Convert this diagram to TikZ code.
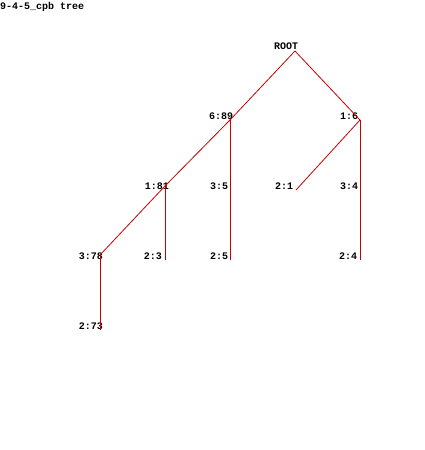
\documentclass[tikz,border=0pt]{standalone}
\usepackage{fontspec}
\setmonofont{Liberation Mono}
\begin{document}
\begin{tikzpicture}[x=1pt,y=-1pt,
  lbl/.style={font=\ttfamily\bfseries\fontsize{10}{10}\selectfont, inner sep=0pt, text=black, anchor=base},
  edge/.style={draw={rgb,255:red,200;green,0;blue,0}, line width=0.8pt}]
\useasboundingbox[fill=white] (0,0) rectangle (425,450);
\node[lbl, anchor=base west] (title) at (0,9.5) {9-4-5\_cpb tree};
% labels
\node[lbl] (lroot) at (286,49.5) {ROOT};
\node[lbl] (l689) at (221,119.5) {6:89};
\node[lbl] (l16) at (349,119.5) {1:6};
\node[lbl] (l181) at (157,189.5) {1:81};
\node[lbl] (l35) at (219,189.5) {3:5};
\node[lbl] (l21) at (284,189.5) {2:1};
\node[lbl] (l34) at (349,189.5) {3:4};
\node[lbl] (l378) at (91,259.5) {3:78};
\node[lbl] (l23) at (153,259.5) {2:3};
\node[lbl] (l25) at (219,259.5) {2:5};
\node[lbl] (l24) at (348,259.5) {2:4};
\node[lbl] (l273) at (91,329.5) {2:73};
% connector points
\coordinate (proot) at (295,51);
\coordinate (p689) at (230,120);
\coordinate (p16) at (360,120);
\coordinate (p181) at (165,186);
\coordinate (p21) at (296,190);
\coordinate (p378) at (100,255);
\coordinate (p25) at (230,260);
\coordinate (p23) at (165,260);
\coordinate (p24) at (360,260);
\coordinate (p273) at (100,330);
\draw[edge] (proot) -- (p689);
\draw[edge] (proot) -- (p16);
\draw[edge] (p689) -- (p181);
\draw[edge] (p689) -- (p25);
\draw[edge] (p16) -- (p21);
\draw[edge] (p16) -- (p24);
\draw[edge] (p181) -- (p378);
\draw[edge] (p181) -- (p23);
\draw[edge] (p378) -- (p273);
\end{tikzpicture}
\end{document}
